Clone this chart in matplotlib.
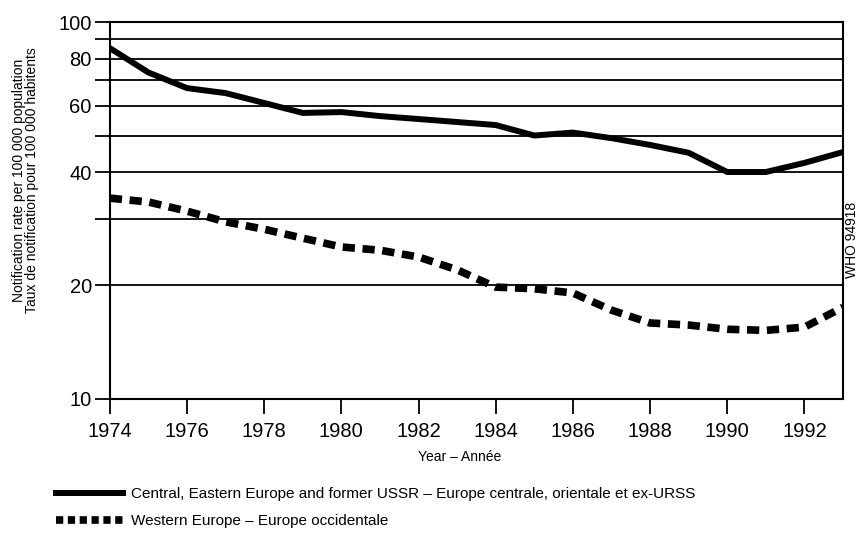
import matplotlib
matplotlib.use("Agg")
import matplotlib.pyplot as plt
from matplotlib.lines import Line2D
from matplotlib.ticker import FixedLocator, NullFormatter, NullLocator

plt.rcParams["font.family"] = ["Liberation Sans", "DejaVu Sans"]

# Data (notification rate per 100 000)
years = list(range(1974, 1994))
central_eastern = [85.3, 73.5, 66.8, 64.8, 61.0, 57.4, 57.7, 56.3, 55.3, 54.3,
                   53.3, 50.0, 50.9, 49.2, 47.2, 45.0, 40.0, 40.0, 42.3, 45.2]
western = [34.1, 33.3, 31.5, 29.5, 28.2, 26.7, 25.3, 24.8, 23.8, 22.0,
           19.8, 19.6, 19.1, 17.2, 15.9, 15.7, 15.3, 15.2, 15.5, 17.5]

label_central = "Central, Eastern Europe and former USSR \u2013 Europe centrale, orientale et ex-URSS"
label_western = "Western Europe \u2013 Europe occidentale"

y_ticks = [10, 20, 40, 60, 80, 100]
grid_vals = [20, 30, 40, 50, 60, 70, 80, 90, 100]
x_ticks = list(range(1974, 1993, 2))

fig = plt.figure(figsize=(8.58, 5.39), dpi=100)
ax = fig.add_axes([0.128, 0.26, 0.8545, 0.699])

ax.plot(years, central_eastern, color="black", lw=4.3, solid_joinstyle="round")
ax.plot(years, western, color="black", lw=5.5, linestyle=(0, (1.6, 1.0)),
        dash_capstyle="butt")

ax.set_yscale("log")
ax.set_ylim(10, 100)
ax.set_xlim(1974, 1993)

ax.yaxis.set_major_locator(FixedLocator(y_ticks))
ax.yaxis.set_major_formatter(plt.FuncFormatter(lambda v, p: f"{v:g}"))
ax.yaxis.set_minor_locator(FixedLocator([30, 50, 70, 90]))
ax.yaxis.set_minor_formatter(NullFormatter())
for v in grid_vals:
    ax.axhline(v, color="black", lw=1.3, zorder=1)

ax.set_xticks(x_ticks)
ax.xaxis.set_minor_locator(NullLocator())
ax.tick_params(axis="both", which="both", direction="out", width=1.3,
               labelsize=14.5, colors="black")
ax.tick_params(axis="y", which="both", length=11, pad=2)
ax.tick_params(axis="x", length=11, pad=6)

for s in ax.spines.values():
    s.set_linewidth(1.5)

ax.set_xlabel("Year \u2013 Ann\u00e9e", fontsize=10, labelpad=7)
ax.xaxis.set_label_coords(0.477, -0.135)

fig.text(0.030, 0.665,
         "Notification rate per 100 000 population\nTaux de notification pour 100 000 habitents",
         rotation=90, ha="center", va="center", fontsize=10, linespacing=0.95)

fig.text(0.993, 0.555, "WHO 94918", rotation=90, ha="center", va="center", fontsize=10)

# legend samples
h1 = Line2D([], [], color="black", lw=4.3)
h2 = Line2D([], [], color="black", lw=5.5, linestyle=(0, (0.95, 0.6)),
            dash_capstyle="butt")
fig.legend(handles=[h1, h2], labels=[label_central, label_western],
           loc="upper left", bbox_to_anchor=(0.058, 0.108),
           frameon=False, fontsize=11, handlelength=4.4, handletextpad=0.5,
           labelspacing=0.85, borderaxespad=0)

fig.savefig("out.png", dpi=100)
